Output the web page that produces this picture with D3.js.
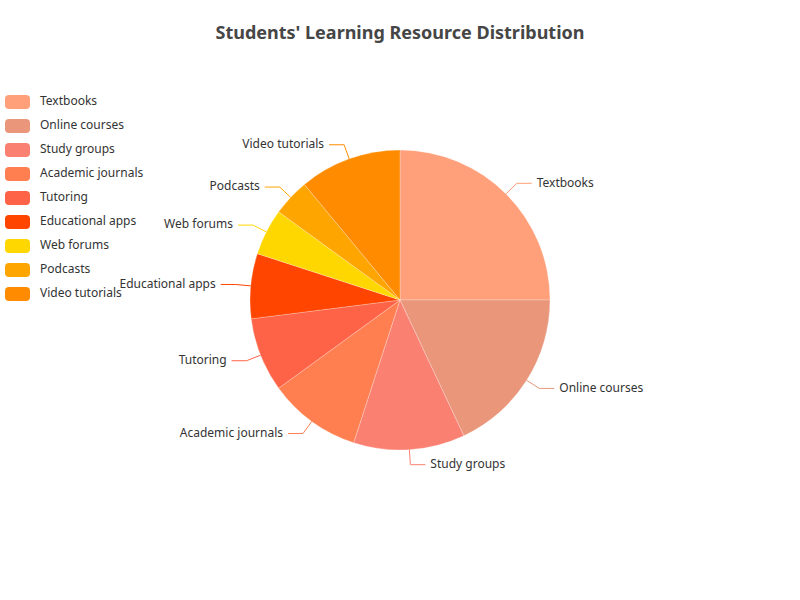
<!DOCTYPE html>
<html>
<head>
<meta charset="utf-8">
<script src="https://cdn.jsdelivr.net/npm/d3@7"></script>
<style>
  body { margin: 0; background: #fff; }
  svg { display: block; font-family: "Noto Sans", sans-serif; }
</style>
</head>
<body>
<svg id="chart" width="800" height="600"></svg>
<script>
const categories = ["Textbooks", "Online courses", "Study groups", "Academic journals", "Tutoring", "Educational apps", "Web forums", "Podcasts", "Video tutorials"];
const values = [25, 18, 12, 10, 8, 7, 5, 4, 11];
const colors = ["#FFA07A", "#E9967A", "#FA8072", "#FF7F50", "#FF6347", "#FF4500", "#FFD700", "#FFA500", "#FF8C00"];
const title = "Students' Learning Resource Distribution";

const svg = d3.select("#chart");
const W = 800, H = 600;
const cx = 400, cy = 300, R = 150;

svg.append("rect").attr("width", W).attr("height", H).attr("fill", "#fff");

svg.append("text")
  .attr("x", W / 2).attr("y", 39)
  .attr("text-anchor", "middle")
  .attr("font-size", 18).attr("font-weight", "bold")
  .attr("fill", "#464646")
  .text(title);

const data = categories.map((c, i) => ({ name: c, value: values[i], color: colors[i] }));
const pie = d3.pie().value(d => d.value).sort(null);
const arcs = pie(data);
const arc = d3.arc().innerRadius(0).outerRadius(R);

const g = svg.append("g").attr("transform", `translate(${cx},${cy})`);
g.selectAll("path.slice").data(arcs).enter().append("path")
  .attr("class", "slice")
  .attr("d", arc)
  .attr("fill", d => d.data.color)
  .attr("stroke", "rgba(255,255,255,0.5)")
  .attr("stroke-width", 0.5);

// labels with lines
const len1 = 15, len2 = 15, gap = 5;
arcs.forEach(a => {
  const mid = (a.startAngle + a.endAngle) / 2;
  const sx = Math.sin(mid), sy = -Math.cos(mid);
  const p0 = [R * sx, R * sy];
  const p1 = [(R + len1) * sx, (R + len1) * sy];
  const right = sx >= 0;
  const p2 = [p1[0] + (right ? len2 : -len2), p1[1]];
  g.append("polyline")
    .attr("points", [p0, p1, p2].map(p => p.join(",")).join(" "))
    .attr("fill", "none")
    .attr("stroke", a.data.color)
    .attr("stroke-width", 1);
  g.append("text")
    .attr("x", p2[0] + (right ? gap : -gap))
    .attr("y", p2[1] - 1)
    .attr("dy", "0.35em")
    .attr("text-anchor", right ? "start" : "end")
    .attr("font-size", 12)
    .attr("fill", "#333")
    .text(a.data.name);
});

// legend
const legend = svg.append("g").attr("transform", "translate(5,95)");
const items = legend.selectAll("g").data(data).enter().append("g")
  .attr("transform", (d, i) => `translate(0,${i * 24})`);
items.append("rect")
  .attr("width", 25).attr("height", 14).attr("rx", 4).attr("ry", 4)
  .attr("fill", d => d.color);
items.append("text")
  .attr("x", 35).attr("y", 6).attr("dy", "0.35em")
  .attr("font-size", 12).attr("fill", "#333")
  .text(d => d.name);
</script>
</body>
</html>
